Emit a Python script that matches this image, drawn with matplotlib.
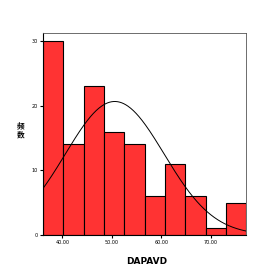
import numpy as np
import matplotlib.pyplot as plt

# histogram of DAPAVD (SPSS style), counts
bin_start = 36.1
bin_width = 4.11
counts = [30, 14, 23, 16, 14, 6, 11, 6, 1, 5]
x_ticks = [40, 50, 60, 70]
x_tick_labels = ["40.00", "50.00", "60.00", "70.00"]
y_ticks = [0, 10, 20, 30]

# normal curve parameters
mean_val = 50.6
std_val = 10.0

n_total = sum(counts)
edges = bin_start + bin_width * np.arange(len(counts) + 1)

fig = plt.figure(figsize=(2.8, 2.8), dpi=100)
ax = fig.add_axes([0.154, 0.161, 0.725, 0.722])

ax.bar(edges[:-1], counts, width=bin_width, align='edge',
       color='#ff3333', edgecolor='black', linewidth=0.8)

xs = np.linspace(edges[0], edges[-1], 300)
ys = n_total * bin_width / (std_val * np.sqrt(2 * np.pi)) * np.exp(-(xs - mean_val) ** 2 / (2 * std_val ** 2))
ax.plot(xs, ys, color='black', linewidth=0.7)

ax.set_xlim(edges[0], edges[-1])
ax.set_ylim(0, 31.3)
ax.set_xticks(x_ticks)
ax.set_xticklabels(x_tick_labels)
ax.set_yticks(y_ticks)
ax.tick_params(labelsize=3.5, length=2, width=0.8, pad=2)

for side in ['top', 'right']:
    ax.spines[side].set_color('#555555')
    ax.spines[side].set_linewidth(0.6)
for side in ['left', 'bottom']:
    ax.spines[side].set_linewidth(0.8)

fig.text(0.075, 0.535, "频\n数", family=['Noto Sans CJK SC', 'DejaVu Sans'],
         fontsize=5.5, fontweight='bold', ha='center', va='center', linespacing=1.0)
fig.text(0.525, 0.065, "DAPAVD", fontsize=6.5, fontweight='bold', ha='center', va='center')

fig.savefig('out.png', dpi=100)
